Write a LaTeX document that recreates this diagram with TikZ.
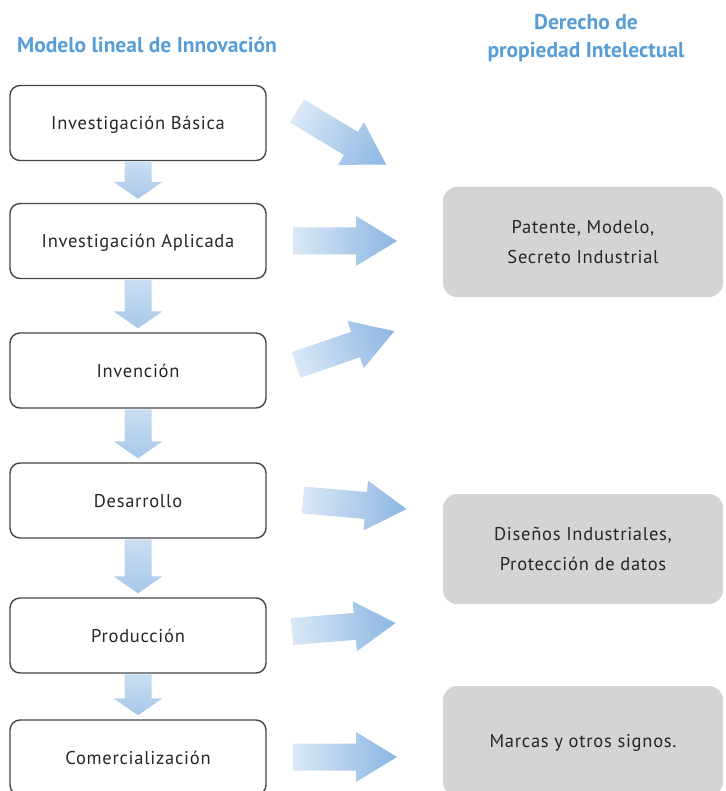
\documentclass[tikz,border=0pt]{standalone}
\usepackage{fontspec}
\setmainfont{PT Sans}
\newfontfamily\cajafont[LetterSpace=4]{PT Sans}
\usepackage{tikz}
\usetikzlibrary{calc}

\definecolor{azultitulo}{RGB}{88,158,214}
\definecolor{grisderecho}{RGB}{211,212,214}
\definecolor{bordecaja}{RGB}{70,70,70}
\definecolor{flechaclara}{RGB}{218,232,246}
\definecolor{flechaoscura}{RGB}{139,182,226}

\begin{document}
\begin{tikzpicture}[x=1pt,y=-1pt]
\tikzstyle{etapa}=[draw=bordecaja, line width=1.4pt, rounded corners=10pt, minimum width=256pt, minimum height=75pt, text depth=0pt, font=\cajafont\fontsize{18.5}{22}\selectfont, text=black!85]
\tikzstyle{derecho}=[fill=grisderecho, rounded corners=14pt, minimum width=280pt, minimum height=110pt, align=center, text depth=0pt, font=\cajafont\fontsize{18.5}{30}\selectfont, text=black!85]
\tikzstyle{titulo}=[text=azultitulo, align=center, font=\bfseries\fontsize{21.5}{28}\selectfont]
\tikzstyle{flecha}=[left color=flechaclara, right color=flechaoscura]
\tikzstyle{flechaabajo}=[top color=flechaclara!80!flechaoscura, bottom color=flechaoscura!65!flechaclara]

\useasboundingbox (0,0) rectangle (725,791);
\clip (0,0) rectangle (725,791);

\node[titulo] (modelo) at (147,45) {Modelo lineal de Innovación};
\node[titulo] (propiedad) at (586,38) {Derecho de\\propiedad Intelectual};

\node[etapa] (basica) at (138,123) {Investigación Básica};
\node[etapa] (aplicada) at (138,241) {Investigación Aplicada};
\node[etapa] (invencion) at (138,370.5) {Invención};
\node[etapa] (desarrollo) at (138,500.5) {Desarrollo};
\node[etapa] (produccion) at (138,635.5) {Producción};
\node[etapa] (comercial) at (138,757.5) {Comercialización};

\node[derecho] (patente) at (583,242) {Patente, Modelo,\\Secreto Industrial};
\node[derecho] (disenos) at (583,549) {Diseños Industriales,\\Protección de datos};
\node[derecho] (marcas) at (583,741) {Marcas y otros signos.};

\foreach \a/\b in {basica/aplicada, aplicada/invencion, invencion/desarrollo, desarrollo/produccion, produccion/comercial}
  \shade[flechaabajo] ($(\a.south)+(-13.5,0.7)$) -- ($(\b.north)+(-13.5,-21)$) -- ++(-11,0)
    -- ($(\b.north)+(0,-4)$) -- ($(\b.north)+(24.5,-21)$) -- ++(-11,0)
    -- ($(\a.south)+(13.5,0.7)$) -- cycle;

\foreach \x/\y/\g in {297/111/-31, 293/241/0, 296/365/19, 303/500/-5, 292/631.5/4.7, 293/757/0}{
  \begin{scope}[transform canvas={shift={(\x,\y)},rotate=\g}]
    \shade[flecha] (0,-13.5) -- (63,-13.5) -- (63,-25) -- (104,0) -- (63,25) -- (63,13.5) -- (0,13.5) -- cycle;
  \end{scope}
}
\end{tikzpicture}
\end{document}
